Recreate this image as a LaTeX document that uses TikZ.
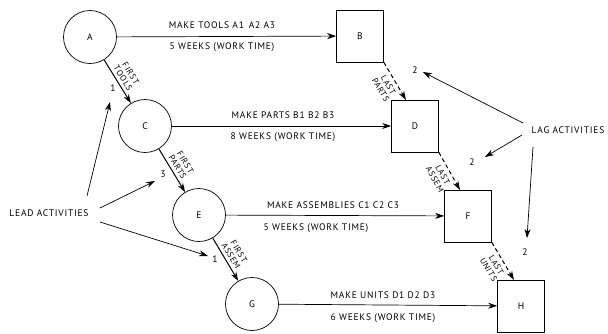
\documentclass[tikz,border=0pt]{standalone}
\usepackage{fontspec}
\setmainfont{PT Sans}[LetterSpace=8]
\usetikzlibrary{arrows.meta}
\begin{document}
\begin{tikzpicture}[x=1pt,y=-1pt,
  every node/.style={font=\fontsize{9.5}{10}\selectfont},
  event/.style={draw,circle,minimum size=53pt,inner sep=0pt,line width=0.7pt},
  milestone/.style={draw,rectangle,minimum width=47pt,minimum height=52pt,inner sep=0pt,line width=0.7pt},
  tip/.style={-{Stealth[length=9pt,width=6pt]}},
  work/.style={tip,line width=0.7pt},
  lead/.style={tip,line width=1pt},
  lag/.style={tip,line width=1pt,dash pattern=on 4pt off 3pt},
  ptr/.style={tip,line width=0.7pt},
  rot/.style={align=center,inner sep=0pt,font=\fontsize{8.5}{9}\selectfont}
]
\useasboundingbox (0,0) rectangle (608,333);
% events
\node[event] (A) at (90,37) {A};
\node[event] (C) at (145,126) {C};
\node[event] (E) at (199,215) {E};
\node[event] (G) at (252,304) {G};
\node[milestone] (B) at (360,36) {B};
\node[milestone] (D) at (415,126) {D};
\node[milestone] (F) at (468,216) {F};
\node[milestone] (H) at (521,306) {H};
% work activities
\draw[work] (A) -- (B);
\draw[work] (C) -- (D);
\draw[work] (E) -- (F);
\draw[work] (G) -- (H);
\node (tA1) at (222,25) {MAKE TOOLS A1\, A2 A3};
\node (tA2) at (222,47) {5 WEEKS (WORK TIME)};
\node (tC1) at (283,115) {MAKE PARTS B1 B2 B3};
\node (tC2) at (283,137) {8 WEEKS (WORK TIME)};
\node (tE1) at (333,205) {MAKE ASSEMBLIES C1 C2 C3};
\node (tE2) at (316,228) {5 WEEKS (WORK TIME)};
\node (tG1) at (383,295) {MAKE UNITS D1 D2 D3};
\node (tG2) at (383,318) {6 WEEKS (WORK TIME)};
% lead arrows
\draw[lead] (A) -- (C) node[midway,sloped,above=3pt,rot] (l1) {FIRST\\TOOLS};
\draw[lead] (C) -- (E) node[midway,sloped,above=3pt,rot] (l2) {FIRST\\PARTS};
\draw[lead] (E) -- (G) node[midway,sloped,above=3pt,rot] (l3) {FIRST\\ASSEM};
% lag arrows
\coordinate (Bc) at (B.south east);
\coordinate (Dt) at (406,100);
\coordinate (Dc) at (D.south east);
\coordinate (Ft) at (460,190);
\coordinate (Fc) at (F.south east);
\coordinate (Ht) at (514,280);
\draw[lag] (Bc) -- (Dt) node[midway,sloped,below=4pt,rot] (m1) {LAST\\PARTS};
\draw[lag] (Dc) -- (Ft) node[midway,sloped,below=4pt,rot] (m2) {LAST\\ASSEM};
\draw[lag] (Fc) -- (Ht) node[midway,sloped,below=4pt,rot] (m3) {LAST\\UNITS};
% lead activities
\node (lead) at (49,213) {LEAD ACTIVITIES};
\node (n1) at (113,88) {1};
\node (n3) at (163,174) {3};
\node (n1b) at (215,259) {1};
\draw[ptr] (87,196) -- (110,102);
\draw[ptr] (100,208) -- (155,181);
\draw[ptr] (100,222) -- (208,256);
% lag activities
\node (lag) at (568,130) {LAG ACTIVITIES};
\node (p1) at (415,70) {2};
\node (p2) at (472,162) {2};
\node (p3) at (525,252) {2};
\draw[ptr] (523,123) -- (423,72);
\draw[ptr] (522,135) -- (485,157);
\draw[ptr] (533,147) -- (527,238);
\end{tikzpicture}
\end{document}
